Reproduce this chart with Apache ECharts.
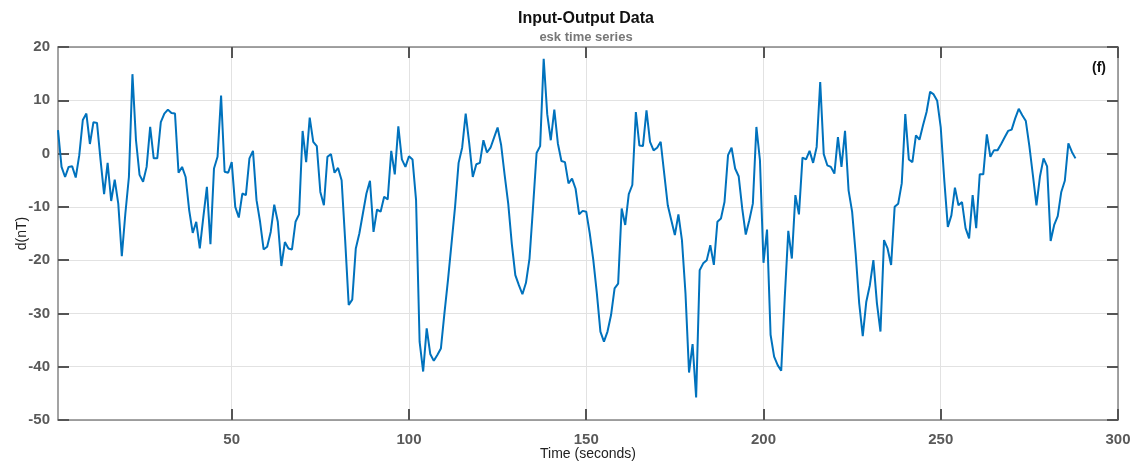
<!DOCTYPE html>
<html>
<head>
<meta charset="utf-8">
<script src="https://cdn.jsdelivr.net/npm/echarts@6/dist/echarts.min.js"></script>
<style>
  html, body { margin: 0; padding: 0; background: #fff; }
  #chart { width: 1135px; height: 465px; }
</style>
</head>
<body>
<div id="chart"></div>
<script>
// esk magnetometer, d component (nT), one sample per second from t = 1
const dNT = [
  4.4, -2.5, -4.4, -2.5, -2.4, -4.5, -0.3, 6.3, 7.5, 1.8,
  5.9, 5.75, -1.2, -7.6, -1.75, -8.9, -4.9, -9.4, -19.25, -11.25,
  -4.4, 14.9, 2.5, -4, -5.3, -2.5, 5, -0.9, -0.9, 5.9,
  7.5, 8.25, 7.6, 7.5, -3.6, -2.5, -4.4, -10.6, -14.9, -12.8,
  -17.8, -11.9, -6.25, -17, -2.8, -0.6, 10.9, -3.4, -3.6, -1.6,
  -10, -12, -7.5, -7.8, -0.9, 0.5, -8.75, -12.8, -18, -17.5,
  -14.7, -9.6, -12.8, -21.1, -16.6, -17.8, -18, -12.8, -11.4, 4.25,
  -1.6, 6.75, 2.2, 1.4, -7.2, -9.7, -0.6, -0.1, -3.6, -2.7,
  -5, -16.25, -28.4, -27.4, -17.8, -15, -11.25, -7.5, -5.1, -14.7,
  -10.5, -10.9, -8.1, -8.6, 0.5, -3.9, 5.1, -1.1, -2.5, -0.5,
  -1.1, -8.75, -35.3, -40.9, -32.8, -37.6, -38.9, -37.8, -36.6, -30,
  -23.75, -16.9, -10, -1.75, 1.1, 7.5, 1.9, -4.4, -2, -1.75,
  2.5, 0.2, 1.1, 3, 4.9, 1.6, -4.1, -9.4, -16.9, -22.8,
  -24.7, -26.4, -24.25, -19.7, -10, 0.1, 1.4, 17.8, 7.4, 2.5,
  8.25, 1.9, -1.4, -1.6, -5.6, -4.7, -6.6, -11.4, -10.75, -10.9,
  -15, -20, -26.25, -33.4, -35.3, -33.4, -30.3, -25.3, -24.4, -10.3,
  -13.4, -7.6, -5.9, 7.8, 1.5, 1.4, 8.1, 2.2, 0.6, 1.1,
  2.2, -3.75, -9.7, -12.5, -15.3, -11.4, -16.25, -26.25, -41.1, -35.75,
  -45.75, -21.9, -20.6, -20, -17.2, -20.9, -12.8, -12.2, -9.1, -0.3,
  1.1, -2.8, -4.25, -10.3, -15.2, -12.5, -9.4, 5, -1.25, -20.5,
  -14.25, -34, -38.1, -39.7, -40.75, -27, -14.5, -19.7, -7.8, -11.4,
  -0.75, -1.1, 0.5, -1.75, 1.25, 13.4, -0.1, -2.2, -2.5, -3.75,
  3.1, -2.5, 4.25, -6.9, -10.9, -18.75, -28.1, -34.25, -27.8, -24.7,
  -20, -28.1, -33.4, -16.25, -17.8, -20.9, -10, -9.4, -5.6, 7.4,
  -1.1, -1.6, 3.4, 2.6, 5.3, 7.8, 11.6, 11.1, 9.9, 4.9,
  -5, -13.75, -11.6, -6.4, -9.7, -9.1, -14, -15.9, -7.8, -14,
  -3.9, -3.9, 3.6, -0.6, 0.6, 0.6, 1.75, 3, 4.25, 4.5,
  6.6, 8.4, 7.2, 6.1, 1.4, -4.1, -9.7, -4.25, -0.9, -2.4,
  -16.4, -13.4, -11.75, -7.2, -5.1, 1.9, 0.3, -0.9
];
const xTicks = [50, 100, 150, 200, 250, 300];
const yRange = [-50, 20];
const xRange = [1, 300];

const titleText = 'Input-Output Data';
const subText = 'esk time series';
const panelTag = '(f)';

const FONT = '"Liberation Sans", Arial, sans-serif';
const BOX = '#858585';
const TICK = '#555';
const GRIDC = '#e2e2e2';
const LINE = '#0072bd';

const chart = echarts.init(document.getElementById('chart'), null, { renderer: 'canvas' });

const tickStyle = { show: true, inside: true, length: 11, lineStyle: { color: TICK, width: 2 } };
const boxLine = { show: true, onZero: false, lineStyle: { color: BOX, width: 1.5 } };
const tickFont = { fontFamily: FONT, fontSize: 15, fontWeight: 'bold', color: '#595959' };

chart.setOption({
  animation: false,
  backgroundColor: '#fff',
  title: {
    text: titleText,
    subtext: subText,
    left: 581,
    textAlign: 'center',
    top: 6,
    itemGap: 4,
    textStyle: { fontFamily: FONT, fontSize: 16, fontWeight: 'bold', color: '#111' },
    subtextStyle: { fontFamily: FONT, fontSize: 13, fontWeight: 'bold', color: '#777' }
  },
  grid: { left: 58, right: 17, top: 47, bottom: 45, outerBoundsMode: 'none' },
  xAxis: [{
    type: 'value',
    min: xRange[0], max: xRange[1],
    name: 'Time (seconds)',
    nameLocation: 'middle',
    nameGap: 27,
    nameMoveOverlap: false,
    nameTextStyle: { fontFamily: FONT, fontSize: 14, color: '#222' },
    axisLine: boxLine,
    axisTick: Object.assign({ customValues: xTicks }, tickStyle),
    axisLabel: Object.assign({ customValues: xTicks, margin: 12 }, tickFont),
    splitLine: { show: true, lineStyle: { color: GRIDC, width: 1 } }
  }, {
    type: 'value',
    position: 'top',
    min: xRange[0], max: xRange[1],
    axisLine: boxLine,
    axisTick: Object.assign({ customValues: xTicks }, tickStyle),
    axisLabel: { show: false },
    splitLine: { show: false }
  }],
  yAxis: [{
    type: 'value',
    min: yRange[0], max: yRange[1], interval: 10,
    name: 'd(nT)',
    nameLocation: 'middle',
    nameGap: 29,
    nameMoveOverlap: false,
    nameTextStyle: { fontFamily: FONT, fontSize: 14, color: '#222' },
    axisLine: boxLine,
    axisTick: tickStyle,
    axisLabel: Object.assign({ margin: 8 }, tickFont),
    splitLine: { show: true, lineStyle: { color: GRIDC, width: 1 } }
  }, {
    type: 'value',
    position: 'right',
    min: yRange[0], max: yRange[1], interval: 10,
    axisLine: boxLine,
    axisTick: tickStyle,
    axisLabel: { show: false },
    splitLine: { show: false }
  }],
  graphic: [{
    type: 'text',
    left: 1092,
    top: 61,
    style: { text: panelTag, fontFamily: FONT, fontSize: 14, fontWeight: 'bold', fill: '#111' }
  }],
  series: [{
    type: 'line',
    xAxisIndex: 0,
    yAxisIndex: 0,
    data: dNT.map((v, i) => [i + 1, v]),
    showSymbol: false,
    lineStyle: { width: 2, color: LINE },
    itemStyle: { color: LINE }
  }]
});
</script>
</body>
</html>
